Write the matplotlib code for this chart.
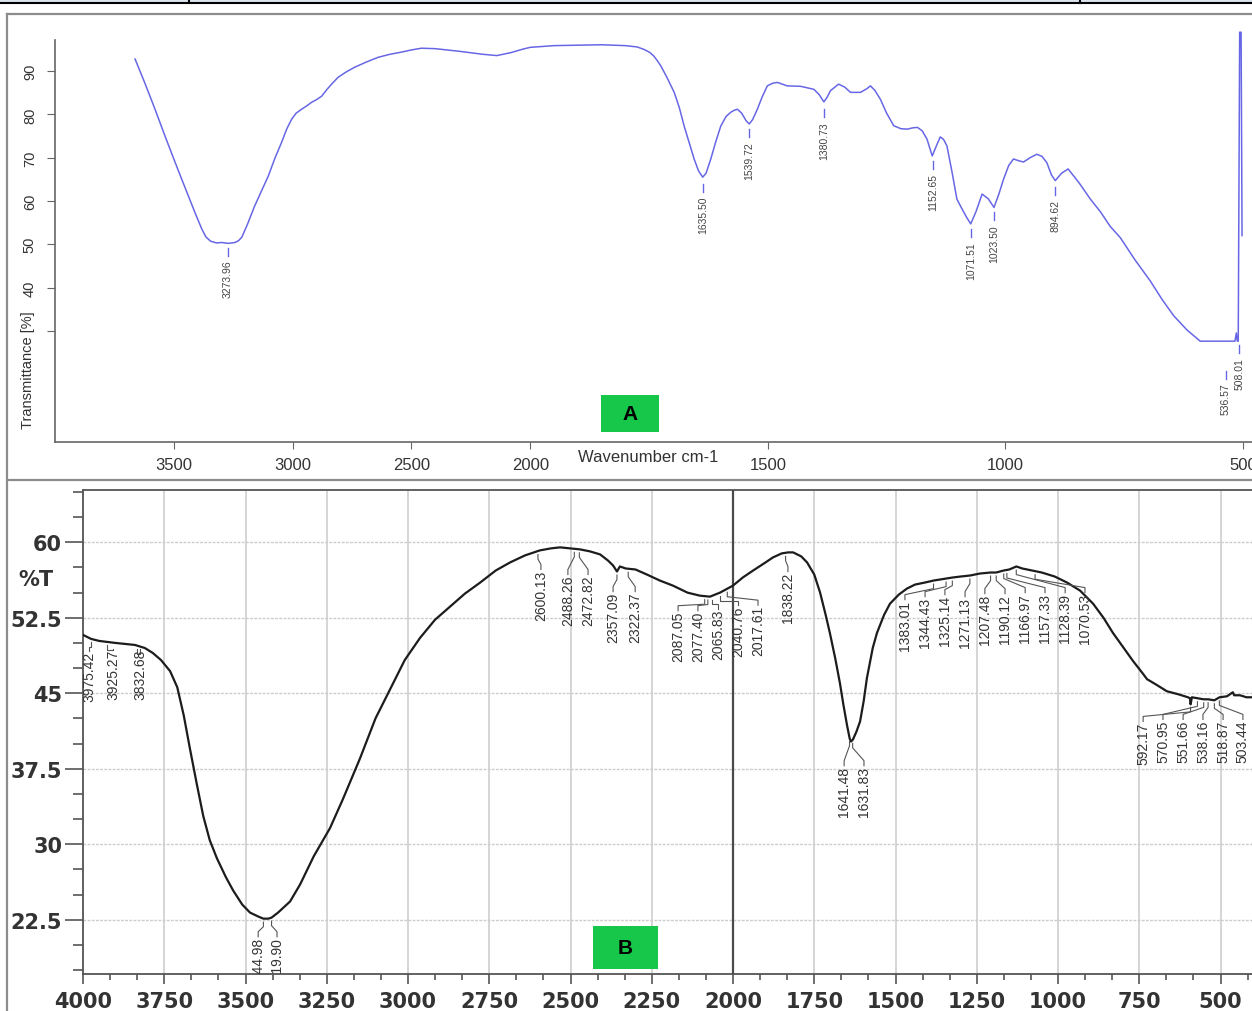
import numpy as np
import matplotlib
matplotlib.use("Agg")
import matplotlib.pyplot as plt
from matplotlib.patches import Rectangle
from matplotlib.ticker import MultipleLocator, FixedLocator

plt.rcParams['font.family'] = ['Liberation Sans', 'DejaVu Sans']

# ---------------- data: spectrum A (blue, split-scale axis) ----------------
A_WAVENUMBER = [3663, 3620, 3579, 3537, 3495, 3465, 3438, 3410, 3382, 3365,
                3345, 3320, 3298, 3270, 3243, 3228, 3214, 3190, 3160, 3130,
                3102, 3075, 3046, 3025, 3004, 2985, 2962, 2940, 2920, 2900,
                2878, 2855, 2836, 2808, 2775, 2739, 2690, 2640, 2590, 2542,
                2500, 2458, 2400, 2300, 2200, 2140, 2080, 2030, 2000, 1950,
                1850, 1800, 1775, 1760, 1748, 1740, 1733, 1725, 1712, 1697,
                1686, 1676, 1665, 1655, 1646, 1637, 1630, 1620, 1610, 1599,
                1588, 1578, 1570, 1564, 1555, 1546, 1539, 1532, 1522, 1512,
                1501, 1490, 1480, 1459, 1431, 1403, 1392, 1382, 1375, 1368,
                1351, 1338, 1326, 1305, 1292, 1284, 1275, 1263, 1250, 1235,
                1220, 1206, 1195, 1185, 1175, 1165, 1154, 1145, 1137, 1130,
                1123, 1112, 1102, 1091, 1082, 1073, 1062, 1049, 1036, 1024,
                1014, 1004, 993, 983, 972, 962, 948, 934, 923, 913,
                903, 895, 882, 868, 845, 821, 800, 780, 758, 728,
                695, 670, 646, 618, 590, 584, 517, 514, 512, 510,
                507, 504, 502]
A_TRANSMITTANCE = [92.8, 87.0, 81.2, 75.0, 69.0, 64.8, 61.1, 57.2, 53.5, 51.7,
                   50.7, 50.3, 50.4, 50.2, 50.4, 50.8, 51.6, 54.6, 58.8, 62.4,
                   65.8, 69.8, 73.6, 76.6, 78.9, 80.3, 81.2, 82.0, 82.8, 83.4,
                   84.2, 85.8, 87.0, 88.6, 89.8, 90.9, 92.1, 93.2, 93.9, 94.4,
                   94.9, 95.3, 95.2, 94.6, 93.9, 93.6, 94.3, 95.1, 95.5, 95.9,
                   96.1, 95.9, 95.6, 95.0, 94.3, 93.5, 92.5, 91.2, 88.5, 85.1,
                   81.5, 77.3, 73.3, 69.7, 67.0, 65.5, 66.4, 69.7, 73.5, 77.3,
                   79.5, 80.5, 81.0, 81.2, 80.3, 78.6, 77.8, 78.8, 81.2, 84.0,
                   86.6, 87.2, 87.4, 86.6, 86.5, 85.8, 84.6, 82.9, 84.0, 85.5,
                   87.0, 86.3, 85.1, 85.1, 85.9, 86.6, 85.6, 83.5, 80.3, 77.4,
                   76.7, 76.6, 76.9, 77.0, 76.2, 74.3, 70.4, 72.8, 74.8, 74.2,
                   72.7, 66.5, 60.4, 58.1, 56.3, 54.7, 57.5, 61.6, 60.5, 58.5,
                   61.5, 65.0, 68.2, 69.7, 69.3, 69.0, 70.0, 70.8, 70.3, 68.9,
                   66.0, 64.7, 66.4, 67.4, 64.2, 60.4, 57.5, 54.2, 51.5, 46.5,
                   41.5, 37.2, 33.5, 30.2, 27.6, 27.6, 27.6, 29.5, 27.6, 27.6,
                   99.0, 99.0, 52.0]
A_PEAKS = [3273.96, 1635.50, 1539.72, 1380.73, 1152.65, 1071.51, 1023.50, 894.62, 536.57, 508.01]
A_XTICKS = [3500, 3000, 2500, 2000, 1500, 1000, 500]
A_YTICKS = [30, 40, 50, 60, 70, 80, 90]
A_YTICKLABELS = ['', '40', '50', '60', '70', '80', '90']

# ---------------- data: spectrum B (black, %T) ----------------
B_WAVENUMBER = [4000, 3975, 3950, 3925, 3900, 3870, 3840, 3810, 3785, 3760,
                3732, 3710, 3690, 3671, 3650, 3630, 3610, 3588, 3560, 3538,
                3510, 3486, 3460, 3445, 3430, 3420, 3400, 3363, 3332, 3290,
                3240, 3200, 3148, 3100, 3055, 3010, 2963, 2917, 2871, 2825,
                2778, 2730, 2686, 2640, 2594, 2560, 2532, 2500, 2471, 2440,
                2409, 2385, 2369, 2357, 2348, 2330, 2300, 2265, 2225, 2185,
                2140, 2102, 2071, 2040, 2000, 1970, 1938, 1900, 1877, 1850,
                1830, 1815, 1790, 1772, 1750, 1732, 1715, 1702, 1685, 1671,
                1660, 1649, 1641, 1637, 1631, 1620, 1609, 1598, 1588, 1570,
                1557, 1535, 1517, 1490, 1465, 1440, 1410, 1383, 1344, 1325,
                1300, 1271, 1240, 1207, 1190, 1167, 1150, 1128, 1110, 1080,
                1050, 1010, 972, 932, 892, 860, 831, 800, 769, 740,
                726, 700, 665, 630, 600, 594, 592, 588, 570, 552,
                538, 519, 503, 480, 462, 458, 440, 420, 403]
B_TRANSMITTANCE = [50.8, 50.4, 50.2, 50.1, 50.0, 49.9, 49.8, 49.5, 49.0, 48.3,
                   47.2, 45.6, 42.8, 39.5, 36.0, 32.8, 30.4, 28.6, 26.7, 25.4,
                   24.0, 23.2, 22.8, 22.6, 22.6, 22.7, 23.2, 24.3, 26.0, 28.8,
                   31.6, 34.5, 38.5, 42.5, 45.4, 48.3, 50.5, 52.3, 53.6, 54.9,
                   56.0, 57.2, 58.0, 58.7, 59.2, 59.4, 59.5, 59.4, 59.3, 59.1,
                   58.8, 58.2, 57.7, 57.1, 57.6, 57.4, 57.3, 56.8, 56.2, 55.7,
                   55.0, 54.7, 54.6, 55.0, 55.7, 56.5, 57.2, 58.0, 58.5, 58.9,
                   59.0, 59.0, 58.6, 58.0, 56.8, 55.0, 52.8, 51.0, 48.4, 46.0,
                   43.8, 41.8, 40.5, 40.2, 40.4, 41.2, 42.2, 44.2, 46.5, 49.5,
                   51.0, 52.8, 53.9, 54.8, 55.4, 55.8, 56.0, 56.2, 56.4, 56.5,
                   56.6, 56.7, 56.9, 57.0, 57.0, 57.2, 57.3, 57.6, 57.4, 57.2,
                   57.0, 56.6, 56.0, 55.2, 53.9, 52.5, 51.0, 49.6, 48.2, 47.0,
                   46.4, 45.9, 45.2, 44.9, 44.6, 44.5, 43.9, 44.6, 44.5, 44.4,
                   44.4, 44.3, 44.6, 44.7, 45.1, 44.8, 44.8, 44.6, 44.6]
B_PEAKS = [3975.42, 3925.27, 3832.68, 3444.98, 3419.90,
           2600.13, 2488.26, 2472.82, 2357.09, 2322.37,
           2087.05, 2077.40, 2065.83, 2040.76, 2017.61, 1838.22,
           1641.48, 1631.83,
           1383.01, 1344.43, 1325.14, 1271.13, 1207.48, 1190.12, 1166.97, 1157.33, 1128.39, 1070.53,
           592.17, 570.95, 551.66, 538.16, 518.87, 503.44]
B_YTICKS = [22.5, 30, 37.5, 45, 52.5, 60]

# ---------------- layout (pixels of the 1252x1012 canvas) ----------------
W, H = 1252, 1012
BLUE = "#6767e6"
INK = "#333333"

# where each B label text sits (wavenumber of text centre, %T of text top)
B_LABEL_X = [3981, 3907, 3824, 3461, 3403,
             2591, 2508, 2446, 2369, 2301,
             2169, 2108, 2046, 1985, 1923, 1831,
             1658, 1597,
             1471, 1409, 1348, 1286, 1225, 1163, 1101, 1040, 978, 917,
             738, 677, 615, 554, 492, 431]
B_LABEL_TOP = [49.2, 49.4, 49.4, 20.8, 20.8,
               57.3, 56.8, 56.8, 55.1, 55.1,
               53.2, 53.2, 53.4, 53.75, 53.75, 57.1,
               37.8, 37.8,
               54.3, 54.6, 54.8, 54.6, 54.9, 54.9, 55.0, 55.0, 55.0, 55.0,
               42.2, 42.4, 42.4, 42.4, 42.4, 42.4]
# top of the small dash under each A peak (%T)
A_LABEL_TOP = [49.1, 63.9, 76.6, 81.2, 69.2, 53.5, 57.4, 63.2, 20.7, 26.7]


def frac(x0, y0, x1, y1):
    return [x0 / W, 1 - y1 / H, (x1 - x0) / W, (y1 - y0) / H]


def fwd(w):
    w = np.asarray(w, dtype=float)
    return np.where(w >= 2000, w, 2 * w - 2000)


def inv(t):
    t = np.asarray(t, dtype=float)
    return np.where(t >= 2000, t, (t + 2000) / 2)


fig = plt.figure(figsize=(W / 100, H / 100), dpi=100, facecolor='white')

# ================= panel A =================
axA = fig.add_axes(frac(55, 41, 1252.5, 443))
axA.set_xscale('function', functions=(fwd, inv))
axA.plot(A_WAVENUMBER, A_TRANSMITTANCE, color=BLUE, lw=1.1, clip_on=False)
axA.set_xlim(4000, 480)
axA.set_ylim(4.3, 97.2)
for s in ('top', 'right'):
    axA.spines[s].set_visible(False)
for s in ('left', 'bottom'):
    axA.spines[s].set_color('#666666')
    axA.spines[s].set_linewidth(1.2)
axA.xaxis.set_major_locator(FixedLocator(A_XTICKS))
axA.xaxis.set_minor_locator(FixedLocator([]))
axA.set_xticklabels([str(v) for v in A_XTICKS])
axA.set_yticks(A_YTICKS)
axA.set_yticklabels(A_YTICKLABELS)
axA.tick_params(axis='x', length=5, color='#666666', labelsize=12, labelcolor=INK, pad=6)
axA.tick_params(axis='y', length=6, color='#666666', labelsize=10.5, labelcolor=INK,
                pad=7, labelrotation=90)
for lab in axA.get_yticklabels():
    lab.set_va('center')

for peak, top in zip(A_PEAKS, A_LABEL_TOP):
    axA.plot([peak, peak], [top, top - 1.9], color=BLUE, lw=1.0)
    axA.text(peak, top - 2.7, f"{peak:.2f}", rotation=90, ha='center', va='top',
             fontsize=7.5, color='#444444')

# ================= panel B =================
axB = fig.add_axes(frac(83, 491, 1259.5, 975))
axB.plot(B_WAVENUMBER, B_TRANSMITTANCE, color='#1c1c1c', lw=1.6, zorder=4)
axB.set_xlim(4000, 380)
axB.set_ylim(17.1, 65.2)
axB.spines['right'].set_visible(False)
for s in ('left', 'bottom', 'top'):
    axB.spines[s].set_color('#555555')
    axB.spines[s].set_linewidth(1.3)
axB.xaxis.set_major_locator(MultipleLocator(250))
axB.xaxis.set_minor_locator(MultipleLocator(250 / 3))
axB.set_yticks(B_YTICKS)
axB.set_yticklabels(['22.5', '30', '37.5', '45', '52.5', '60'])
axB.yaxis.set_minor_locator(MultipleLocator(2.5))
tick_font = dict(family='DejaVu Sans', weight='bold', size=15)
for lab in axB.get_xticklabels() + axB.get_yticklabels():
    lab.set_fontproperties(tick_font)
axB.tick_params(axis='x', which='major', length=7, width=1.2, color='#555555', labelcolor=INK, pad=5)
axB.tick_params(axis='x', which='minor', length=4, width=1.2, color='#555555')
axB.tick_params(axis='y', which='major', length=13, width=1.2, color='#555555', labelcolor=INK, pad=2)
axB.tick_params(axis='y', which='minor', length=7, width=1.2, color='#555555')
axB.grid(True, which='major', axis='x', color='#d2d2d2', lw=1.3, ls='-', zorder=0)
axB.grid(True, which='major', axis='y', color='#cccccc', lw=1.0, ls=(0, (2, 1)), zorder=0)
axB.axvline(2000, color='#4a4a4a', lw=1.6, zorder=3)

bw = np.array(B_WAVENUMBER, dtype=float)[::-1]
bt = np.array(B_TRANSMITTANCE, dtype=float)[::-1]
for peak, lx, top in zip(B_PEAKS, B_LABEL_X, B_LABEL_TOP):
    yc = np.interp(peak, bw, bt)
    y0 = yc - 0.35
    y1 = yc - 0.8
    y2 = min(top + 0.5, y1)
    axB.plot([peak, peak, lx, lx], [y0, y1, y2, top], color='#555555', lw=0.8, zorder=5)
    axB.text(lx, top, f"{peak:.2f}", rotation=90, ha='center', va='top', fontsize=10,
             color=INK, zorder=5, clip_on=True)

# ================= overlay: frames, badges, axis titles =================
bg = fig.add_axes([0, 0, 1, 1], zorder=10)
bg.set_xlim(0, W)
bg.set_ylim(H, 0)
bg.axis('off')

bg.fill_between([0, W], 0, 3, color='#dbe4ee', lw=0)
bg.plot([0, W], [3.5, 3.5], color='black', lw=1.5)
bg.plot([189, 189], [0, 4], color='black', lw=1.5)
bg.plot([1080, 1080], [0, 4], color='black', lw=1.5)

frame = '#8c8c8c'
bg.plot([7, 7], [15, H], color=frame, lw=1.6)
bg.plot([7, W], [15, 15], color=frame, lw=1.6)
bg.plot([7, W], [481, 481], color=frame, lw=1.6)

green = '#17c74a'
bg.add_patch(Rectangle((601, 396), 58, 37, facecolor=green, edgecolor='none'))
bg.text(630, 415, 'A', ha='center', va='center', fontsize=15, fontweight='bold', color='black')
bg.add_patch(Rectangle((593, 927), 65, 43, facecolor=green, edgecolor='none'))
bg.text(625.5, 948.5, 'B', ha='center', va='center', fontsize=15, fontweight='bold', color='black')

bg.text(648, 457, 'Wavenumber cm-1', ha='center', va='center', fontsize=12, color=INK)
bg.text(28, 370, 'Transmittance [%]', ha='center', va='center', rotation=90, fontsize=10.5, color=INK)
bg.text(36, 580, '%T', ha='center', va='center', fontsize=15, fontweight='bold',
        color=INK, family='DejaVu Sans')

fig.savefig('out.png', dpi=100, facecolor='white')
